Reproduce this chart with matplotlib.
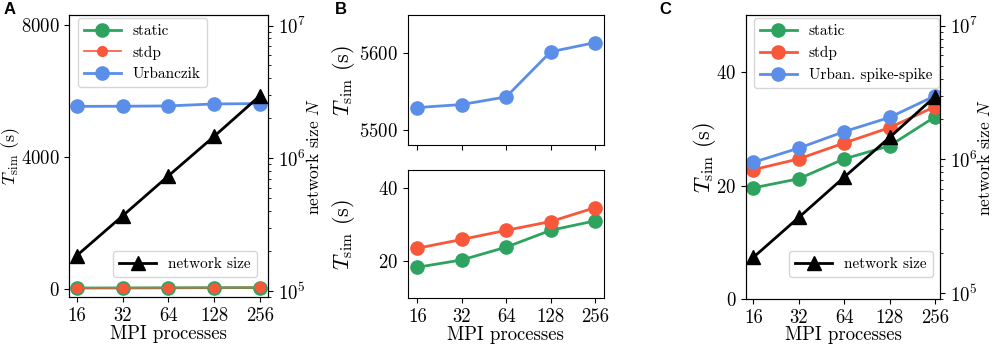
"""Simulation time vs. number of MPI processes (weak scaling), three panels."""

import matplotlib
matplotlib.use("Agg")
import matplotlib.pyplot as plt
from matplotlib.ticker import FixedLocator, FixedFormatter, NullLocator

plt.rcParams.update({
    "font.family": "serif",
    "font.serif": ["cmr10", "DejaVu Serif"],
    "mathtext.fontset": "cm",
    "axes.formatter.use_mathtext": True,
    "font.size": 13.5,
    "axes.labelsize": 13.5,
    "xtick.labelsize": 13.5,
    "ytick.labelsize": 13.5,
    "legend.fontsize": 11,
    "legend.handlelength": 2.4,
    "axes.unicode_minus": False,
})

# --- data -----------------------------------------------------------------
mpi = [16, 32, 64, 128, 256]
mpi_labels = ["16", "32", "64", "128", "256"]
network_size = [185000, 368000, 736000, 1460000, 2950000]

# panels A/B: Urbanczik rule vs. static / stdp
static_ab = [18.4, 20.4, 23.9, 28.5, 31.1]
stdp_ab = [23.6, 26.0, 28.5, 30.9, 34.7]
urbanczik_ab = [5529, 5533, 5543, 5602, 5614]

# panel C: Urbanczik spike-spike variant
static_c = [19.6, 21.2, 24.7, 27.0, 32.1]
stdp_c = [22.8, 24.7, 27.5, 30.2, 33.9]
urban_c = [24.1, 26.6, 29.5, 32.0, 35.8]

GREEN = "#2ea35f"
RED = "#f9573a"
BLUE = "#5b8ee8"
MS = 9.5
TLABEL = r"$T_\mathrm{sim}$ (s)"

fig = plt.figure(figsize=(9.93, 3.47), dpi=100)


def _xaxis(ax, lim, label_y=None):
    ax.set_xscale("log", base=2)
    ax.set_xlim(*lim)
    ax.xaxis.set_major_locator(FixedLocator(mpi))
    ax.xaxis.set_minor_locator(NullLocator())
    if label_y is None:
        ax.set_xticklabels([])
        return
    ax.xaxis.set_major_formatter(FixedFormatter(mpi_labels))
    ax.set_xlabel("MPI processes")
    ax.xaxis.set_label_coords(0.5, label_y)


def _tlabel(ax, x, size):
    ax.set_ylabel(TLABEL, fontsize=size)
    ax.yaxis.set_label_coords(x, 0.5)


def _network(ax, anchor, label_x):
    ax2 = ax.twinx()
    ax2.set_yscale("log")
    ax2.plot(mpi, network_size, color="black", marker="^", ms=MS, lw=2,
             label="network size")
    ax2.set_ylim(9e4, 1.2e7)
    ax2.set_ylabel("network size $N$", fontsize=12.5)
    ax2.yaxis.set_label_coords(label_x, 0.5)
    ax2.legend(loc="lower right", bbox_to_anchor=anchor, borderaxespad=0)
    return ax2


# --- A ---------------------------------------------------------------------
axA = fig.add_axes([0.0695, 0.144, 0.2004, 0.8127])
axA.plot(mpi, static_ab, color=GREEN, marker="o", ms=MS, lw=2, label="static")
axA.plot(mpi, stdp_ab, color=RED, marker="o", ms=7, lw=1.2, label="stdp")
axA.plot(mpi, urbanczik_ab, color=BLUE, marker="o", ms=MS, lw=2,
         label="Urbanczik")
axA.set_ylim(-255, 8300)
axA.set_yticks([0, 4000, 8000])
_tlabel(axA, -0.234, 13)
_xaxis(axA, (14.2, 290), label_y=-0.099)
axA.legend(loc="upper left", bbox_to_anchor=(0.045, 0.989), borderaxespad=0)
_network(axA, (0.945, 0.071), 1.185)

# --- B ---------------------------------------------------------------------
axB1 = fig.add_axes([0.4106, 0.582, 0.1977, 0.3746])
axB1.plot(mpi, urbanczik_ab, color=BLUE, marker="o", ms=MS, lw=2)
axB1.set_ylim(5480, 5650)
axB1.set_yticks([5500, 5600])
_tlabel(axB1, -0.258, 16)
_xaxis(axB1, (13.8, 294))

axB2 = fig.add_axes([0.4106, 0.1412, 0.1977, 0.369])
axB2.plot(mpi, static_ab, color=GREEN, marker="o", ms=MS, lw=2)
axB2.plot(mpi, stdp_ab, color=RED, marker="o", ms=MS, lw=2)
axB2.set_ylim(10, 45)
axB2.set_yticks([20, 40])
_tlabel(axB2, -0.258, 16)
_xaxis(axB2, (13.8, 294), label_y=-0.216)

# --- C ---------------------------------------------------------------------
axC = fig.add_axes([0.7513, 0.138, 0.1954, 0.818])
axC.plot(mpi, static_c, color=GREEN, marker="o", ms=MS, lw=2, label="static")
axC.plot(mpi, stdp_c, color=RED, marker="o", ms=MS, lw=2, label="stdp")
axC.plot(mpi, urban_c, color=BLUE, marker="o", ms=MS, lw=2,
         label="Urban. spike-spike")
axC.set_ylim(0, 50)
axC.set_yticks([0, 20, 40])
_tlabel(axC, -0.142, 16)
_xaxis(axC, (14.3, 277), label_y=-0.095)
axC.legend(loc="upper left", bbox_to_anchor=(0.041, 0.989), borderaxespad=0)
_network(axC, (0.964, 0.077), 1.184)

for x, letter in [(0.004, "A"), (0.337, "B"), (0.664, "C")]:
    fig.text(x, 0.995, letter, family="Liberation Sans", weight="bold",
             fontsize=12, va="top", ha="left")

fig.savefig("out.png", dpi=100)
